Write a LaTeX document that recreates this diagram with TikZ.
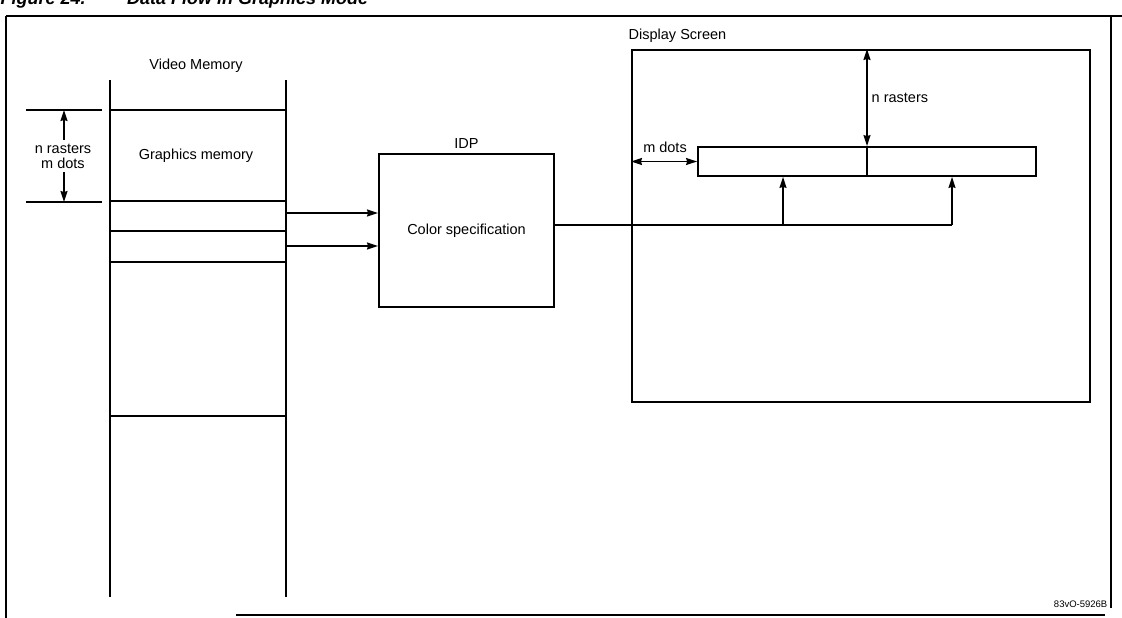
\documentclass[tikz,border=0pt]{standalone}
\usepackage{fontspec}
\setmainfont{Liberation Sans}
\usetikzlibrary{arrows.meta}

\tikzset{
	lbl/.style={inner sep=0pt, font=\fontsize{14.5}{17}\selectfont},
	boxnode/.style={draw, line width=2pt, inner sep=0pt},
	flow/.style={line width=1.4pt, -{Stealth[length=11pt,width=7pt,inset=1pt]}},
	dim/.style={line width=1.4pt, {Stealth[length=11pt,width=7pt,inset=1pt]}-{Stealth[length=11pt,width=7pt,inset=1pt]}}
}

\begin{document}
\begin{tikzpicture}[x=1pt, y=-1pt, line width=1.4pt]
		\useasboundingbox (0,0) rectangle (1122,618);
		\clip (0,0) rectangle (1122,618);
		\node[anchor=base west, inner sep=0pt, font=\fontsize{18}{20}\selectfont\bfseries\itshape] (title) at (0,5) {Figure 24.\hspace{2.3em}Data Flow in Graphics Mode};

		\draw (6,16) -- (1122,16);
		\draw (6,16) -- (6,618);
		\draw (1111,16) -- (1111,608);
		\draw (236,615) -- (1105,615);
		\node[anchor=base east, inner sep=0pt, font=\fontsize{9.5}{11}\selectfont] (figno) at (1108,607) {83vO-5926B};

		\draw (110,80) -- (110,597);
		\draw (286,80) -- (286,597);
		\draw (110,110) -- (286,110);
		\draw (110,201) -- (286,201);
		\draw[line width=2pt] (110,231) -- (286,231);
		\draw (110,262) -- (286,262);
		\draw (110,416) -- (286,416);
		\node[lbl] (vmem) at (196,66) {Video Memory};
		\node[lbl] (gmem) at (196,156) {Graphics memory};

		\draw (26,110) -- (102,110);
		\draw (26,202) -- (102,202);
		\node[lbl, align=center, font=\fontsize{14.5}{15}\selectfont] (nm) at (63,156) {n rasters\\m dots};
		\draw[flow] (nm.north -| 64,0) ++(0,-3) -- (64,110);
		\draw[flow] (nm.south -| 64,0) ++(0,3) -- (64,202);

		\node[boxnode, minimum width=175pt, minimum height=153pt] (idp) at (466.5,230.5) {};
		\node[lbl] (cspec) at (idp.center) {Color specification};
		\node[lbl, anchor=south] (idplbl) at (idp.north) [yshift=4pt] {IDP};

		\coordinate (row1) at (286,213);
		\coordinate (row2) at (286,246);
		\draw[flow] (row1) -- (row1 -| idp.west);
		\draw[flow] (row2) -- (row2 -| idp.west);

		\node[boxnode, minimum width=458pt, minimum height=352pt] (screen) at (861,226) {};
		\node[lbl, anchor=south west] (scrlbl) at (screen.north west) [yshift=6pt, xshift=-3pt] {Display Screen};

		\node[draw, line width=1.8pt, inner sep=0pt, minimum width=338pt, minimum height=29pt] (strip) at (867,161.5) {};
		\draw[line width=1.8pt] (strip.north) -- (strip.south);

		\draw[dim] (screen.north -| strip.north) -- (strip.north);
		\node[lbl, anchor=west] (nras) at (871,98) {n rasters};
		\draw[dim] (screen.west |- strip.west) -- (strip.west);
		\node[lbl] (mdots) at (665,147) {m dots};

		\coordinate (outl) at (idp.east |- 0,225);
		\coordinate (outa) at (783,225);
		\coordinate (outb) at (952,225);
		\draw (outl) -- (outb);
		\draw[flow] (outa) -- (outa |- strip.south);
		\draw[flow] (outb) -- (outb |- strip.south);
	    \end{tikzpicture}
\end{document}
